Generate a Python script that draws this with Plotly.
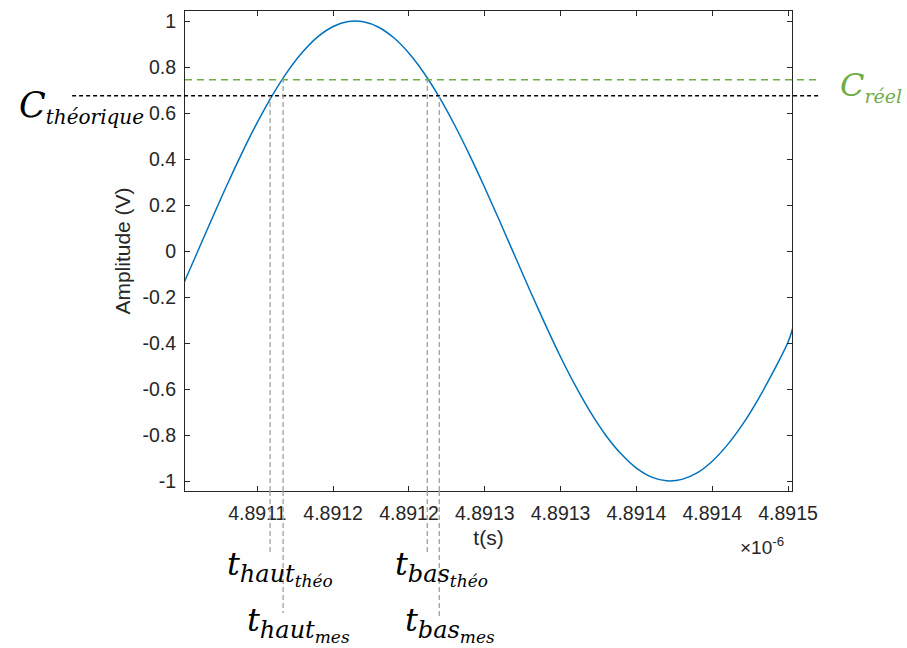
import plotly.graph_objects as go

# ---- data (time in units of 1e-6 s) ----
time_us = [4.89105, 4.89106, 4.89107, 4.89108, 4.89109, 4.89110, 4.89111, 4.89112,
           4.89113, 4.89114, 4.89115, 4.89116, 4.89117, 4.89118, 4.89119, 4.89120,
           4.89121, 4.89122, 4.89123, 4.89124, 4.89125, 4.89126, 4.89127, 4.89128,
           4.89129, 4.89130, 4.89131, 4.89132, 4.89133, 4.89134, 4.89135, 4.89136,
           4.89137, 4.89138, 4.89139, 4.89140, 4.89141, 4.89142, 4.89143, 4.89144,
           4.89145, 4.891453]
amplitude = [-0.163, -0.012, 0.139, 0.287, 0.428, 0.559, 0.678, 0.781,
             0.866, 0.932, 0.976, 0.998, 0.997, 0.973, 0.927, 0.860,
             0.773, 0.669, 0.549, 0.417, 0.275, 0.127, -0.024, -0.175,
             -0.321, -0.461, -0.589, -0.704, -0.803, -0.883, -0.944, -0.983,
             -0.999, -0.993, -0.965, -0.914, -0.843, -0.754, -0.648, -0.528,
             -0.396, -0.337]

c_theorique = 0.675
c_reel = 0.745
t_haut_theo = 4.8911084
t_haut_mes = 4.8911170
t_bas_theo = 4.8912121
t_bas_mes = 4.8912200

x_tickvals = [4.89110, 4.89115, 4.89120, 4.89125, 4.89130, 4.89135, 4.89140, 4.89145]
x_ticktext = ["4.8911", "4.8912", "4.8912", "4.8913", "4.8913", "4.8914", "4.8914", "4.8915"]
y_tickvals = [-1, -0.8, -0.6, -0.4, -0.2, 0, 0.2, 0.4, 0.6, 0.8, 1]
y_ticktext = ["-1", "-0.8", "-0.6", "-0.4", "-0.2", "0", "0.2", "0.4", "0.6", "0.8", "1"]

x_range = [4.8910523, 4.8914526]
y_range = [-1.0435, 1.0435]

BLUE = "#0072BD"
GREEN = "#70AD47"
GRAY = "#A0A0A0"
AXC = "#262626"

fig = go.Figure()
fig.add_trace(go.Scatter(x=time_us, y=amplitude, mode="lines",
                         line=dict(color=BLUE, width=1.5, shape="spline"),
                         showlegend=False, hoverinfo="skip"))

shapes = []
shapes.append(dict(type="line", xref="paper", yref="y", x0=0, x1=1.048,
                   y0=c_reel, y1=c_reel,
                   line=dict(color=GREEN, width=1.5, dash="7px,5px"), layer="above"))
shapes.append(dict(type="line", xref="paper", yref="y", x0=-0.186, x1=1.048,
                   y0=c_theorique, y1=c_theorique,
                   line=dict(color="black", width=1.5, dash="4px,3px"), layer="above"))

verticals = [(t_haut_theo, c_theorique, -0.133),
             (t_haut_mes, c_reel, -0.254),
             (t_bas_theo, c_reel, -0.129),
             (t_bas_mes, c_theorique, -0.262)]
for t, lvl, bot in verticals:
    shapes.append(dict(type="line", xref="x", yref="y", x0=t, x1=t,
                       y0=y_range[0], y1=lvl,
                       line=dict(color=GRAY, width=1.3, dash="5px,3px"), layer="above"))
    shapes.append(dict(type="line", xref="x", yref="paper", x0=t, x1=t,
                       y0=0, y1=bot,
                       line=dict(color=GRAY, width=1.3, dash="5px,3px"), layer="above"))


def lbl(base, s1, s2=None):
    txt = base + "<sub><span style='font-size:24px'>" + s1
    if s2:
        txt += "<sub><span style='font-size:17px'>" + s2 + "</span></sub>"
    txt += "</span></sub>"
    return txt


LBL = dict(family="DejaVu Serif", size=32, color="black", style="italic")
annotations = [
    dict(text="C<sub><span style='font-size:20px'>théorique</span></sub>",
         xref="paper", yref="paper", x=-0.064, y=0.80,
         xanchor="right", yanchor="middle", showarrow=False, font=dict(LBL, size=35)),
    dict(text="C<sub><span style='font-size:19px'>réel</span></sub>",
         xref="paper", yref="paper", x=1.076, y=0.843,
         xanchor="left", yanchor="middle", showarrow=False,
         font=dict(LBL, color=GREEN)),
    dict(text=lbl("t", "haut", "théo"), xref="paper", yref="paper", x=0.066, y=-0.16,
         xanchor="left", yanchor="middle", showarrow=False, font=LBL),
    dict(text=lbl("t", "haut", "mes"), xref="paper", yref="paper", x=0.099, y=-0.277,
         xanchor="left", yanchor="middle", showarrow=False, font=LBL),
    dict(text=lbl("t", "bas", "théo"), xref="paper", yref="paper", x=0.343, y=-0.16,
         xanchor="left", yanchor="middle", showarrow=False, font=LBL),
    dict(text=lbl("t", "bas", "mes"), xref="paper", yref="paper", x=0.359, y=-0.277,
         xanchor="left", yanchor="middle", showarrow=False, font=LBL),
    dict(text="×10<sup>-6</sup>", xref="paper", yref="paper", x=0.99, y=-0.085,
         xanchor="right", yanchor="top", showarrow=False,
         font=dict(family="Liberation Sans", size=19, color=AXC)),
]

axis_common = dict(showline=True, linecolor=AXC, linewidth=1, mirror="ticks",
                   ticks="inside", ticklen=5, tickcolor=AXC, tickwidth=1,
                   showgrid=False, zeroline=False,
                   tickfont=dict(family="Liberation Sans", size=19.5, color=AXC))

fig.update_layout(
    width=907, height=648,
    margin=dict(l=185, r=115, t=11, b=157),
    paper_bgcolor="white", plot_bgcolor="white",
    xaxis=dict(axis_common, range=x_range, tickmode="array", tickvals=x_tickvals,
               ticktext=x_ticktext, ticklabelstandoff=5,
               title=dict(text="t(s)", standoff=6,
                          font=dict(family="Liberation Sans", size=21, color=AXC))),
    yaxis=dict(axis_common, range=y_range, tickmode="array", tickvals=y_tickvals,
               ticktext=y_ticktext, ticklabelstandoff=4,
               title=dict(text="Amplitude (V)", standoff=6,
                          font=dict(family="Liberation Sans", size=21, color=AXC))),
    shapes=shapes,
    annotations=annotations,
)

fig.write_html("out.html", post_script="document.body.style.margin='0';",
               config={"displayModeBar": False})
